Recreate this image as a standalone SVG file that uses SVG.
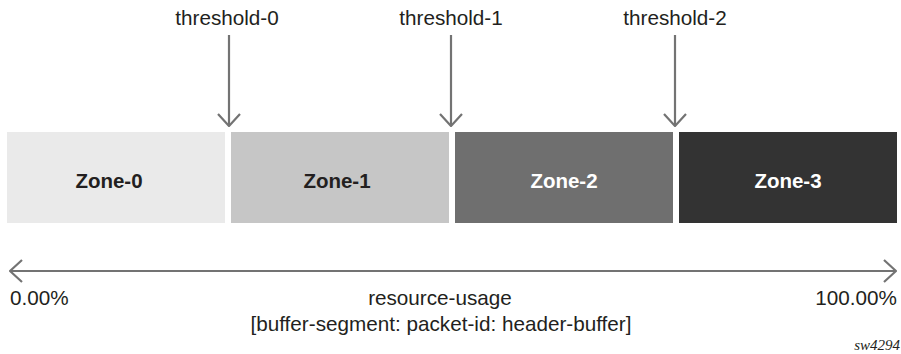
<svg xmlns="http://www.w3.org/2000/svg" width="901" height="354" viewBox="0 0 901 354">
<style>
text{font-family:"Liberation Sans",Arial,sans-serif;fill:#231f20}
.lbl{font-size:20.7px}
.zone{font-size:20.5px;font-weight:bold;text-anchor:middle}
.w{fill:#ffffff}
.arr{stroke:#737373;stroke-width:2.2;fill:none}
</style>
<defs>
<marker id="head" viewBox="0 0 14 24" refX="13" refY="12" markerWidth="14" markerHeight="24" markerUnits="userSpaceOnUse" orient="auto-start-reverse">
<path d="M1,1 L13,12 L1,23" fill="none" stroke="#737373" stroke-width="2.2"/>
</marker>
</defs>
<rect width="901" height="354" fill="#ffffff"/>
<g id="zone-0"><rect x="7" y="132" width="218" height="91" fill="#eaeaea"/><text class="zone" x="109" y="188">Zone-0</text></g>
<g id="zone-1"><rect x="231" y="132" width="218" height="91" fill="#c6c6c6"/><text class="zone" x="337" y="188">Zone-1</text></g>
<g id="zone-2"><rect x="455" y="132" width="218" height="91" fill="#6f6f6f"/><text class="zone w" x="564" y="188">Zone-2</text></g>
<g id="zone-3"><rect x="679" y="132" width="218" height="91" fill="#333333"/><text class="zone w" x="788" y="188">Zone-3</text></g>
<g id="threshold-0"><text class="lbl" x="227" y="25" text-anchor="middle">threshold-0</text></g>
<g id="threshold-1"><text class="lbl" x="451" y="25" text-anchor="middle">threshold-1</text></g>
<g id="threshold-2"><text class="lbl" x="675" y="25" text-anchor="middle">threshold-2</text></g>
<g id="axis-labels">
<text class="lbl" x="10" y="305">0.00%</text>
<text class="lbl" x="897" y="305" text-anchor="end">100.00%</text>
<text class="lbl" x="440" y="305" text-anchor="middle">resource-usage</text>
<text class="lbl" x="441" y="331" text-anchor="middle">[buffer-segment: packet-id: header-buffer]</text>
<text x="900" y="350" text-anchor="end" style="font-family:'Liberation Serif','Times New Roman',serif;font-style:italic;font-size:15px">sw4294</text>
</g>
<g id="connectors">
<line class="arr" x1="229" y1="35" x2="229" y2="126" marker-end="url(#head)"/>
<line class="arr" x1="451" y1="35" x2="451" y2="126" marker-end="url(#head)"/>
<line class="arr" x1="675" y1="35" x2="675" y2="126" marker-end="url(#head)"/>
<line class="arr" x1="10" y1="271" x2="896" y2="271" marker-start="url(#head)" marker-end="url(#head)"/>
</g>
</svg>
